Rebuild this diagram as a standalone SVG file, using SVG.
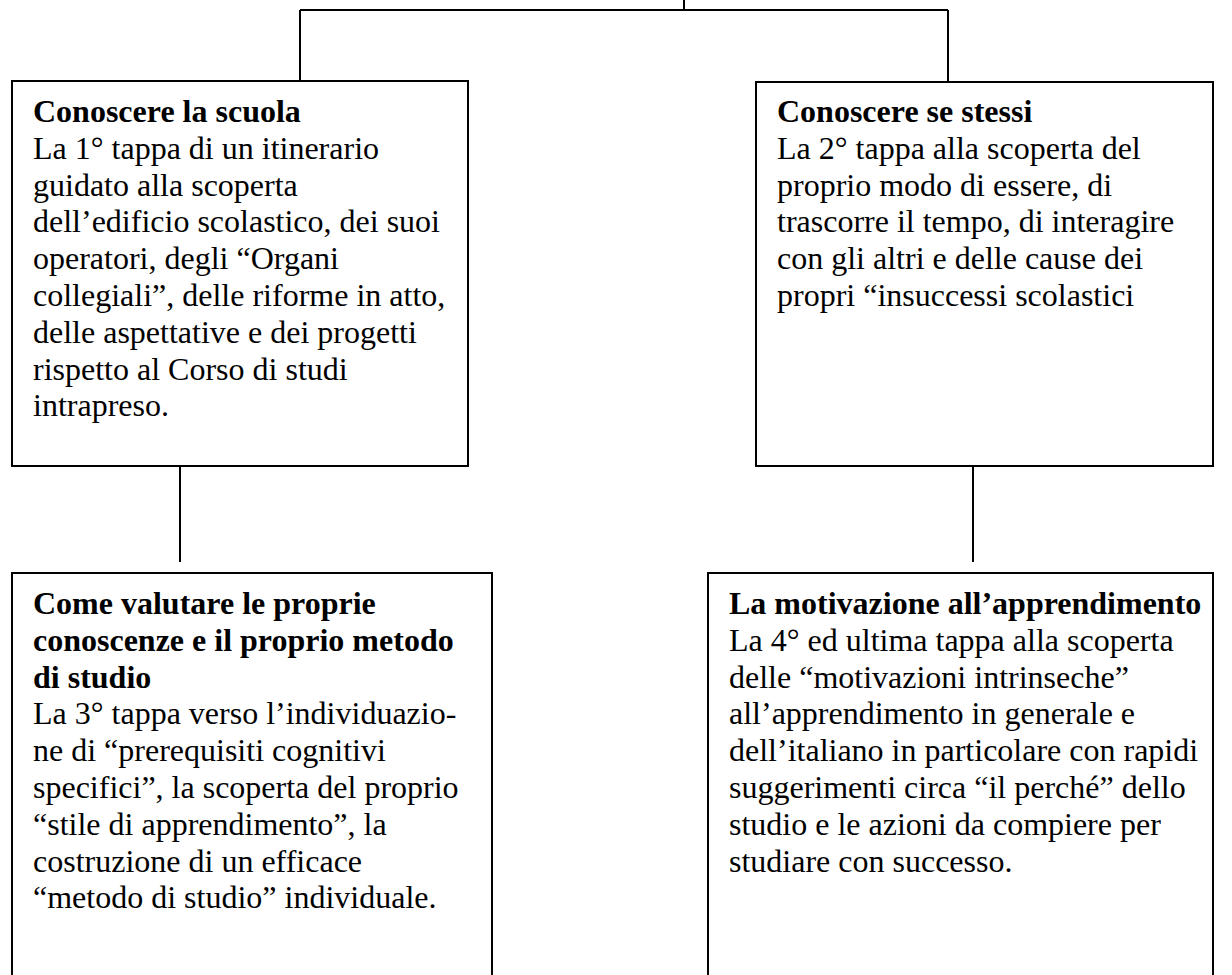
<svg xmlns="http://www.w3.org/2000/svg" width="1232" height="975" viewBox="0 0 1232 975">
<style>
.box{fill:#fff;stroke:#000;stroke-width:2}
.ln{fill:none;stroke:#000;stroke-width:2}
text{font-family:"Liberation Serif","Times New Roman",serif;font-size:32px;fill:#000}
.b{font-weight:bold}
</style>
<rect width="1232" height="975" fill="#fff"/>
<g id="connectors">
<path class="ln" d="M684 0V10M300 10H948M300 10V81M948 10V82"/>
<path class="ln" d="M180 466V562M973 466V562"/>
</g>
<g id="node1">
<rect class="box" x="12" y="81" width="456" height="385"/>
<text x="33" y="122"><tspan class="b">Conoscere la scuola</tspan><tspan x="33" dy="36.8">La 1° tappa di un itinerario</tspan><tspan x="33" dy="36.8">guidato alla scoperta</tspan><tspan x="33" dy="36.8">dell’edificio scolastico, dei suoi</tspan><tspan x="33" dy="36.8">operatori, degli “Organi</tspan><tspan x="33" dy="36.8">collegiali”, delle riforme in atto,</tspan><tspan x="33" dy="36.8">delle aspettative e dei progetti</tspan><tspan x="33" dy="36.8">rispetto al Corso di studi</tspan><tspan x="33" dy="36.8">intrapreso.</tspan></text>
</g>
<g id="node2">
<rect class="box" x="756" y="82" width="457" height="384"/>
<text x="777" y="122"><tspan class="b">Conoscere se stessi</tspan><tspan x="777" dy="36.8">La 2° tappa alla scoperta del</tspan><tspan x="777" dy="36.8">proprio modo di essere, di</tspan><tspan x="777" dy="36.8">trascorre il tempo, di interagire</tspan><tspan x="777" dy="36.8">con gli altri e delle cause dei</tspan><tspan x="777" dy="36.8">propri “insuccessi scolastici</tspan></text>
</g>
<g id="node3">
<rect class="box" x="12" y="573" width="480" height="420"/>
<text x="33" y="614"><tspan class="b">Come valutare le proprie</tspan><tspan class="b" x="33" dy="36.8">conoscenze e il proprio metodo</tspan><tspan class="b" x="33" dy="36.8">di studio</tspan><tspan x="33" dy="36.8">La 3° tappa verso l’individuazio-</tspan><tspan x="33" dy="36.8">ne di “prerequisiti cognitivi</tspan><tspan x="33" dy="36.8">specifici”, la scoperta del proprio</tspan><tspan x="33" dy="36.8">“stile di apprendimento”, la</tspan><tspan x="33" dy="36.8">costruzione di un efficace</tspan><tspan x="33" dy="36.8">“metodo di studio” individuale.</tspan></text>
</g>
<g id="node4">
<rect class="box" x="708" y="573" width="505" height="420"/>
<text x="729" y="614"><tspan class="b">La motivazione all’apprendimento</tspan><tspan x="729" dy="36.8">La 4° ed ultima tappa alla scoperta</tspan><tspan x="729" dy="36.8">delle “motivazioni intrinseche”</tspan><tspan x="729" dy="36.8">all’apprendimento in generale e</tspan><tspan x="729" dy="36.8">dell’italiano in particolare con rapidi</tspan><tspan x="729" dy="36.8">suggerimenti circa “il perché” dello</tspan><tspan x="729" dy="36.8">studio e le azioni da compiere per</tspan><tspan x="729" dy="36.8">studiare con successo.</tspan></text>
</g>
</svg>
